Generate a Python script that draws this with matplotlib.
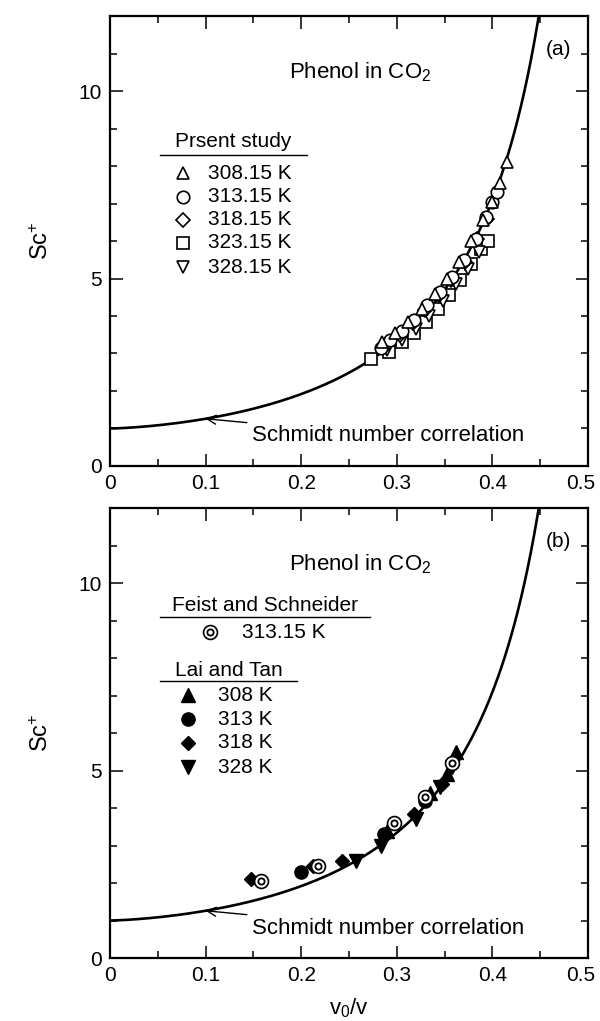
import numpy as np
import matplotlib
matplotlib.use('Agg')
import matplotlib.pyplot as plt
import matplotlib.transforms as mtransforms
from matplotlib.ticker import MultipleLocator

plt.rcParams['font.family'] = ['Liberation Sans', 'DejaVu Sans']
plt.rcParams['mathtext.default'] = 'regular'

# Schmidt number correlation (coefficients)
corr_a, corr_m, corr_c = 3.22, 1.45, 0.54

def schmidt_corr(x):
    return 1 + corr_a * x ** corr_m / (corr_c - x)

# (a) present study
p308_x = [0.285, 0.298, 0.312, 0.326, 0.340, 0.352, 0.365, 0.378, 0.390, 0.400, 0.408, 0.415]
p308_y = [3.30, 3.55, 3.85, 4.20, 4.60, 5.00, 5.45, 6.00, 6.55, 7.05, 7.55, 8.10]
p313_x = [0.283, 0.293, 0.305, 0.318, 0.332, 0.345, 0.358, 0.370, 0.383, 0.393, 0.400, 0.405]
p313_y = [3.15, 3.35, 3.60, 3.90, 4.30, 4.65, 5.05, 5.50, 6.05, 6.65, 7.05, 7.30]
p318_x = [0.290, 0.303, 0.317, 0.330, 0.344, 0.357, 0.371, 0.384, 0.394]
p318_y = [3.25, 3.50, 3.80, 4.15, 4.55, 4.95, 5.45, 6.05, 6.60]
p323_x = [0.273, 0.292, 0.305, 0.318, 0.331, 0.343, 0.355, 0.366, 0.378, 0.388, 0.395]
p323_y = [2.85, 3.05, 3.30, 3.55, 3.85, 4.20, 4.55, 4.95, 5.40, 5.80, 6.00]
p328_x = [0.290, 0.305, 0.320, 0.334, 0.348, 0.362, 0.374, 0.386]
p328_y = [3.10, 3.35, 3.65, 4.00, 4.40, 4.85, 5.25, 5.70]

# (b) literature data
fs313_x = [0.158, 0.218, 0.297, 0.330, 0.358]
fs313_y = [2.05, 2.45, 3.60, 4.30, 5.20]
lt308_x = [0.290, 0.335, 0.352, 0.362]
lt308_y = [3.40, 4.40, 4.90, 5.50]
lt313_x = [0.200, 0.287, 0.330]
lt313_y = [2.30, 3.30, 4.20]
lt318_x = [0.147, 0.212, 0.243, 0.318, 0.347]
lt318_y = [2.10, 2.45, 2.60, 3.85, 4.65]
lt328_x = [0.257, 0.283, 0.320, 0.345, 0.358]
lt328_y = [2.60, 3.00, 3.70, 4.55, 5.10]

xticks = [0, 0.1, 0.2, 0.3, 0.4, 0.5]
xtick_labels = ['0', '0.1', '0.2', '0.3', '0.4', '0.5']
yticks = [0, 5, 10]
ytick_labels = ['0', '5', '10']

fig = plt.figure(figsize=(6, 10.21), dpi=100)
ax_a = fig.add_axes([0.1833, 0.5436, 0.7967, 0.4407])
ax_b = fig.add_axes([0.1833, 0.0617, 0.7967, 0.4407])

x_curve = np.linspace(0, 0.455, 400)

for ax, tag in [(ax_a, '(a)'), (ax_b, '(b)')]:
    ax.plot(x_curve, schmidt_corr(x_curve), color='black', lw=1.9, zorder=2)
    ax.set_xlim(0, 0.5)
    ax.set_ylim(0, 12)
    ax.set_xticks(xticks)
    ax.set_xticklabels(xtick_labels)
    ax.set_yticks(yticks)
    ax.set_yticklabels(ytick_labels)
    ax.xaxis.set_minor_locator(MultipleLocator(0.05))
    ax.yaxis.set_minor_locator(MultipleLocator(1))
    ax.tick_params(which='both', direction='in', top=True, right=True, width=1.1,
                   labelsize=15)
    ax.tick_params(which='major', length=9, pad=6)
    ax.tick_params(which='minor', length=5)
    # nudge the last x label so it stays inside the figure
    last = ax.get_xticklabels()[-1]
    last.set_transform(last.get_transform() +
                       mtransforms.ScaledTranslation(-5 / 72, 0, fig.dpi_scale_trans))
    for s in ax.spines.values():
        s.set_linewidth(1.6)
    ax.set_ylabel('Sc$^{+}$', fontsize=17)
    ax.yaxis.set_label_coords(-0.12, 0.5)
    ax.text(0.262, 10.5, 'Phenol in CO$_2$', fontsize=16, ha='center', va='center')
    ax.text(0.469, 11.1, tag, fontsize=15, ha='center', va='center')
    ax.annotate('Schmidt number correlation', xy=(0.1, schmidt_corr(0.1)),
                xytext=(0.149, 0.8), fontsize=16, ha='left', va='center',
                arrowprops=dict(arrowstyle='->', color='black', lw=1.0,
                                shrinkA=2, shrinkB=0, mutation_scale=16))

ax_b.set_xlabel('v$_0$/v', fontsize=16)
ax_b.xaxis.set_label_coords(0.5, -0.085)

open_kw = dict(ls='none', mfc='white', mec='black', mew=1.2, zorder=3)
filled_kw = dict(ls='none', color='black', zorder=3)

# panel (a) data
ax_a.plot(p323_x, p323_y, marker='s', ms=8, **open_kw)
ax_a.plot(p328_x, p328_y, marker='v', ms=9, **open_kw)
ax_a.plot(p318_x, p318_y, marker='D', ms=7, **open_kw)
ax_a.plot(p313_x, p313_y, marker='o', ms=9, **open_kw)
ax_a.plot(p308_x, p308_y, marker='^', ms=9, **open_kw)

# panel (b) data
ax_b.plot(lt308_x, lt308_y, marker='^', ms=10, **filled_kw)
ax_b.plot(lt313_x, lt313_y, marker='o', ms=9.5, **filled_kw)
ax_b.plot(lt318_x, lt318_y, marker='D', ms=7.5, **filled_kw)
ax_b.plot(lt328_x, lt328_y, marker='v', ms=10, **filled_kw)
ax_b.plot(fs313_x, fs313_y, marker='o', ms=10, **open_kw)
ax_b.plot(fs313_x, fs313_y, marker='o', ms=4.5, ls='none', mfc='white', mec='black',
          mew=1.3, zorder=4)


def key_header(ax, x0, x1, y_text, y_line, text):
    ax.text((x0 + x1) / 2, y_text, text, transform=ax.transAxes, fontsize=15,
            ha='center', va='center')
    ax.plot([x0, x1], [y_line, y_line], transform=ax.transAxes, color='black',
            lw=1.0, clip_on=False)


def key_entry(ax, xm, xt, y, label, **kw):
    ax.plot([xm], [y], transform=ax.transAxes, clip_on=False, **kw)
    ax.text(xt, y, label, transform=ax.transAxes, fontsize=15, ha='left', va='center')


# legend (a)
key_header(ax_a, 0.105, 0.412, 0.722, 0.691, 'Prsent study')
a_keys = [('^', 9, '308.15 K'), ('o', 9, '313.15 K'), ('D', 7, '318.15 K'),
          ('s', 8, '323.15 K'), ('v', 9, '328.15 K')]
for (mk, ms, lab), y in zip(a_keys, [0.651, 0.598, 0.547, 0.496, 0.442]):
    key_entry(ax_a, 0.153, 0.205, y, lab, marker=mk, ms=ms, **open_kw)

# legend (b)
key_header(ax_b, 0.105, 0.544, 0.784, 0.758, 'Feist and Schneider')
key_entry(ax_b, 0.209, 0.276, 0.724, '313.15 K', marker='o', ms=10, **open_kw)
ax_b.plot([0.209], [0.724], transform=ax_b.transAxes, marker='o', ms=4.5, ls='none',
          mfc='white', mec='black', mew=1.3, zorder=4, clip_on=False)
key_header(ax_b, 0.105, 0.391, 0.640, 0.616, 'Lai and Tan')
b_keys = [('^', 10, '308 K'), ('o', 9.5, '313 K'), ('D', 7.5, '318 K'), ('v', 10, '328 K')]
for (mk, ms, lab), y in zip(b_keys, [0.584, 0.531, 0.478, 0.424]):
    key_entry(ax_b, 0.163, 0.226, y, lab, marker=mk, ms=ms, **filled_kw)

fig.savefig('out.png', dpi=100)
